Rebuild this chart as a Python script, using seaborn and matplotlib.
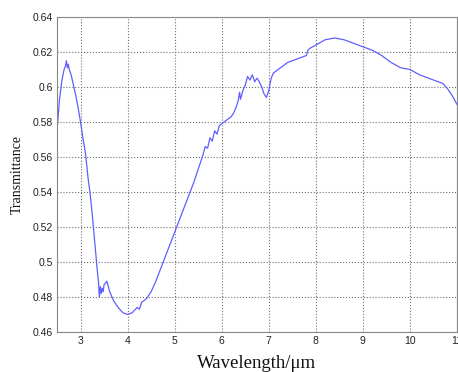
import matplotlib
matplotlib.use("Agg")
import matplotlib.pyplot as plt
import seaborn as sns
import pandas as pd

wavelength = [2.5, 2.55, 2.6, 2.65, 2.68, 2.70, 2.72, 2.74, 2.76, 2.8, 2.85, 2.9, 2.95,
              3.0, 3.05, 3.1, 3.13, 3.16, 3.2, 3.25, 3.3, 3.33, 3.36, 3.38, 3.40, 3.42,
              3.44, 3.46, 3.48, 3.50, 3.53, 3.56, 3.58, 3.62, 3.7, 3.8, 3.9, 4.0, 4.1,
              4.2, 4.25, 4.3, 4.4, 4.5, 4.6, 4.7, 4.8, 4.9, 5.0, 5.1, 5.2, 5.3, 5.4,
              5.5, 5.55, 5.6, 5.65, 5.7, 5.75, 5.8, 5.85, 5.9, 5.95, 6.0, 6.1, 6.2,
              6.25, 6.3, 6.35, 6.38, 6.4, 6.45, 6.5, 6.55, 6.6, 6.65, 6.7, 6.75, 6.8,
              6.85, 6.9, 6.95, 7.0, 7.05, 7.1, 7.2, 7.4, 7.6, 7.8, 7.83, 7.87, 8.0,
              8.2, 8.4, 8.6, 8.8, 9.0, 9.2, 9.4, 9.6, 9.8, 10.0, 10.2, 10.4, 10.6,
              10.7, 10.8, 10.9, 11.0]
transmittance = [0.575, 0.592, 0.603, 0.610, 0.612, 0.615, 0.611, 0.613, 0.610, 0.607,
                 0.601, 0.595, 0.588, 0.580, 0.571, 0.563, 0.556, 0.548, 0.540, 0.527,
                 0.512, 0.503, 0.494, 0.489, 0.480, 0.486, 0.482, 0.485, 0.483, 0.487,
                 0.488, 0.489, 0.487, 0.483, 0.478, 0.474, 0.471, 0.470, 0.471, 0.474,
                 0.473, 0.477, 0.479, 0.483, 0.489, 0.496, 0.503, 0.510, 0.517, 0.524,
                 0.531, 0.538, 0.545, 0.553, 0.557, 0.561, 0.566, 0.565, 0.571, 0.569,
                 0.575, 0.573, 0.578, 0.579, 0.581, 0.583, 0.585, 0.588, 0.592, 0.597,
                 0.593, 0.598, 0.601, 0.606, 0.604, 0.607, 0.603, 0.605, 0.603, 0.600,
                 0.596, 0.594, 0.598, 0.605, 0.608, 0.610, 0.614, 0.616, 0.618, 0.621,
                 0.622, 0.624, 0.627, 0.628, 0.627, 0.625, 0.623, 0.621, 0.618, 0.614,
                 0.611, 0.610, 0.607, 0.605, 0.603, 0.602, 0.599, 0.595, 0.590]

x_ticks = [3, 4, 5, 6, 7, 8, 9, 10, 11]
x_tick_labels = ["3", "4", "5", "6", "7", "8", "9", "10", "11"]
y_ticks = [0.46, 0.48, 0.50, 0.52, 0.54, 0.56, 0.58, 0.60, 0.62, 0.64]
y_tick_labels = ["0.46", "0.48", "0.5", "0.52", "0.54", "0.56", "0.58", "0.6", "0.62", "0.64"]

df = pd.DataFrame({"wl": wavelength, "t": transmittance})

sns.set_style("white")
plt.rcParams["font.family"] = ["Liberation Sans", "DejaVu Sans"]

fig = plt.figure(figsize=(4.58, 3.72), dpi=100)
ax = fig.add_axes([57 / 458, 1 - 332 / 372, 400 / 458, 315 / 372])

sns.lineplot(data=df, x="wl", y="t", ax=ax, color="#5f5fff", linewidth=0.9,
             estimator=None, sort=False)

ax.set_xlim(2.5, 11)
ax.set_ylim(0.46, 0.64)
ax.set_xticks(x_ticks)
ax.set_xticklabels(x_tick_labels)
ax.set_yticks(y_ticks)
ax.set_yticklabels(y_tick_labels)
ax.tick_params(direction="in", length=3, width=0.6, labelsize=7.5, colors="#222222",
               pad=3)
ax.grid(True, linestyle=":", linewidth=0.8, color="#707070")
for s in ax.spines.values():
    s.set_color("#888888")
    s.set_linewidth(0.8)

ax.set_xlabel("Wavelength/\u03bcm", family=["Liberation Serif", "DejaVu Serif"],
              fontsize=13.5, color="#111111", labelpad=6)
ax.set_ylabel("Transmittance", family=["Liberation Serif", "DejaVu Serif"],
              fontsize=10, color="#111111", labelpad=6)

fig.savefig("out.png", dpi=100)
